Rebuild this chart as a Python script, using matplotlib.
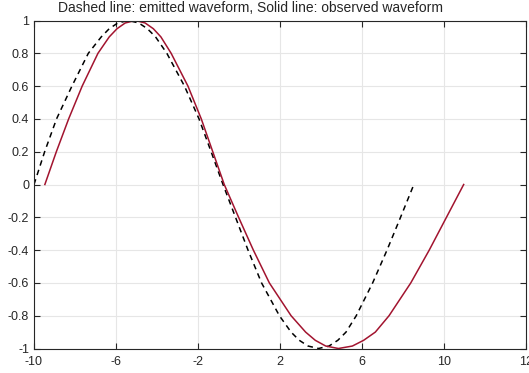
import matplotlib
matplotlib.use("Agg")
import matplotlib.pyplot as plt

# Emitted waveform (dashed)
emitted_x = [-10.0, -9.48, -8.90, -8.15, -7.35, -6.72, -6.33, -5.91, -5.40,
             -4.89, -4.47, -4.07, -3.52, -2.66, -1.95, -1.36, -0.78,
             -0.17, 0.44, 1.10, 1.97, 2.54, 2.94, 3.37, 3.88,
             4.39, 4.82, 5.22, 5.72, 6.52, 7.22, 7.88, 8.53]
emitted_y = [0.0, 0.2, 0.4, 0.6, 0.8, 0.9, 0.95, 0.985, 1.0,
             0.985, 0.95, 0.9, 0.8, 0.6, 0.4, 0.2, 0.0,
             -0.2, -0.4, -0.6, -0.8, -0.9, -0.95, -0.985, -1.0,
             -0.985, -0.95, -0.9, -0.8, -0.6, -0.4, -0.2, 0.0]

# Observed waveform (solid)
observed_x = [-9.47, -8.91, -8.31, -7.65, -6.88, -6.33, -5.95, -5.55, -5.06,
              -4.58, -4.18, -3.81, -3.31, -2.49, -1.84, -1.28, -0.72,
              -0.02, 0.70, 1.48, 2.54, 3.25, 3.72, 4.23, 4.85,
              5.53, 6.08, 6.65, 7.32, 8.38, 9.28, 10.12, 10.96]
observed_y = [0.0, 0.2, 0.4, 0.6, 0.8, 0.9, 0.95, 0.985, 1.0,
              0.985, 0.95, 0.9, 0.8, 0.6, 0.4, 0.2, 0.0,
              -0.2, -0.4, -0.6, -0.8, -0.9, -0.95, -0.985, -1.0,
              -0.985, -0.95, -0.9, -0.8, -0.6, -0.4, -0.2, 0.0]

x_tick_pos = [-10, -6, -2, 2, 6, 10, 14]
x_tick_labels = ['-10', '-6', '-2', '2', '6', '10', '12']
y_tick_pos = [-1, -0.8, -0.6, -0.4, -0.2, 0, 0.2, 0.4, 0.6, 0.8, 1]
y_tick_labels = ['-1', '-0.8', '-0.6', '-0.4', '-0.2', '0', '0.2', '0.4', '0.6', '0.8', '1']

title = "Dashed line: emitted waveform, Solid line: observed waveform"

plt.rcParams['font.family'] = ['Liberation Sans', 'DejaVu Sans']

fig = plt.figure(figsize=(5.29, 3.73), dpi=100)
ax = fig.add_axes([34 / 529, 24.5 / 373, 492 / 529, 328 / 373])

dark = '#262626'
ax.plot(emitted_x, emitted_y, color='black', lw=1.1, linestyle=(0, (3.6, 2.9)))
ax.plot(observed_x, observed_y, color='#A2142F', lw=1.1)

ax.set_xlim(-10, 14)
ax.set_ylim(-1, 1)
ax.set_xticks(x_tick_pos)
ax.set_xticklabels(x_tick_labels)
ax.set_yticks(y_tick_pos)
ax.set_yticklabels(y_tick_labels)

ax.grid(True, color='#e6e6e6', lw=0.8)
ax.set_axisbelow(True)
ax.tick_params(direction='in', length=4, width=0.8, colors=dark,
               top=True, right=True, labelsize=9, pad=3.5)
ax.tick_params(axis='x', pad=5.5)
for s in ax.spines.values():
    s.set_color(dark)
    s.set_linewidth(0.8)

fig.text(250 / 529, 1 - 8.5 / 373, title, fontsize=10, color=dark,
         ha='center', va='center')

fig.savefig('out.png', dpi=100)
